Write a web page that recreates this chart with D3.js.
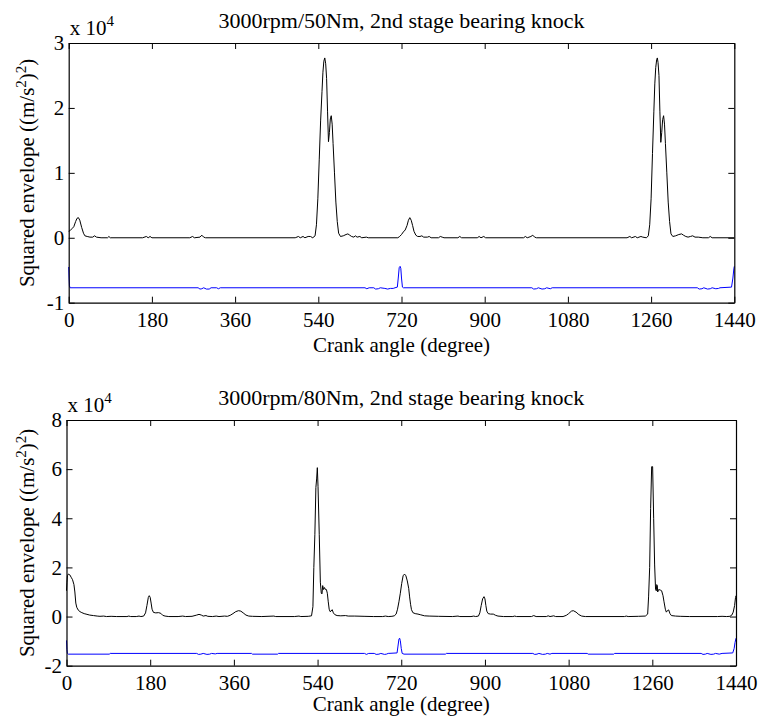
<!DOCTYPE html>
<html>
<head>
<meta charset="utf-8">
<script src="https://cdn.jsdelivr.net/npm/d3@7"></script>
<style>
    body { margin: 0; background: #fff; }
    svg, svg text, svg tspan { font-family: Liberation Serif, Times New Roman, Tinos, DejaVu Serif, serif !important; }
</style>
</head>
<body>
<svg></svg>
<script>
// Crank angle ticks shared by both panels
const x_ticks = [0, 180, 360, 540, 720, 900, 1080, 1260, 1440]
const x_label = "Crank angle (degree)"

// Values are in units of 10^4 (m/s^2)^2, as on the axis
const top_title = "3000rpm/50Nm, 2nd stage bearing knock"
const top_y_ticks = [-1, 0, 1, 2, 3]

// [crank angle, squared envelope] for the black trace, 50Nm
const top_black = [
    [0, 0.10], [3, 0.11], [7, 0.14], [11, 0.17], [15, 0.25], [18, 0.30], [21, 0.31], [24, 0.27],
    [28, 0.16], [32, 0.07], [35, 0.03], [40, 0.02], [46, 0.01], [52, 0.01], [56, 0.03], [60, 0.01],
    [70, 0], [84, 0], [87, 0.02], [90, 0], [160, 0], [168, 0.02], [172, 0], [176, 0.02], [180, 0],
    [262, 0], [268, 0.02], [272, 0], [284, 0.01], [288, 0.04], [292, 0.01], [296, 0],
    [490, 0], [497, 0.02], [501, 0], [507, 0.02], [511, 0], [518, 0.02], [523, 0.02], [528, 0],
    [533, 0.03], [536, 0.2], [539, 0.6], [542, 1.2], [545, 1.8], [548, 2.25], [550, 2.55], [552, 2.72],
    [554, 2.77], [556, 2.68], [558, 2.45], [560, 1.95], [562, 1.48], [564, 1.62], [566, 1.83], [568, 1.88],
    [570, 1.75], [572, 1.45], [575, 1.0], [578, 0.55], [581, 0.25], [584, 0.07], [588, 0.02], [594, 0.03],
    [600, 0.05], [604, 0.06], [608, 0.04], [612, 0.02], [617, 0.01], [620, 0.03], [624, 0.01], [630, 0.02],
    [634, 0], [644, 0.01], [648, 0], [712, 0], [716, 0.02], [720, 0.05], [724, 0.09], [728, 0.12],
    [732, 0.19], [735, 0.27], [738, 0.31], [741, 0.27], [744, 0.19], [747, 0.1], [751, 0.04], [755, 0.02],
    [760, 0.02], [764, 0.03], [768, 0.01], [776, 0.01], [780, 0.02], [784, 0], [800, 0], [804, 0.02],
    [808, 0.01], [812, 0], [842, 0], [846, 0.02], [850, 0], [884, 0], [888, 0.02], [892, 0], [898, 0.02],
    [902, 0], [984, 0], [988, 0.02], [992, 0], [1000, 0.02], [1004, 0.04], [1008, 0.01], [1012, 0],
    [1208, 0], [1214, 0.02], [1218, 0], [1226, 0.02], [1230, 0], [1238, 0.02], [1242, 0.01], [1250, 0],
    [1254, 0.03], [1257, 0.2], [1260, 0.6], [1263, 1.3], [1266, 1.95], [1268, 2.37], [1270, 2.62],
    [1272, 2.74], [1273.5, 2.77], [1275, 2.7], [1277, 2.5], [1279, 1.95], [1281, 1.47], [1283, 1.62],
    [1285, 1.82], [1287, 1.88], [1289, 1.75], [1291, 1.45], [1294, 1.0], [1297, 0.55], [1300, 0.25],
    [1303, 0.06], [1307, 0.02], [1313, 0.03], [1320, 0.05], [1326, 0.06], [1330, 0.04], [1335, 0.02],
    [1340, 0.01], [1345, 0.02], [1350, 0.03], [1355, 0.01], [1362, 0.01], [1372, 0], [1384, 0],
    [1388, 0.02], [1392, 0], [1440, 0]
]

// blue trace, 50Nm
const top_blue = [
    [0, -0.45], [0.8, -0.62], [1.6, -0.74], [3, -0.77], [280, -0.77], [284, -0.79], [288, -0.785],
    [292, -0.77], [298, -0.79], [304, -0.79], [308, -0.77], [320, -0.77], [324, -0.785], [328, -0.77],
    [641, -0.77], [645, -0.785], [650, -0.77], [660, -0.77], [664, -0.79], [670, -0.785], [674, -0.77],
    [684, -0.78], [690, -0.79], [696, -0.78], [702, -0.78], [706, -0.77], [711, -0.76], [713, -0.62],
    [715, -0.46], [717, -0.44], [718.5, -0.47], [720, -0.62], [722, -0.76], [724, -0.77],
    [1002, -0.77], [1006, -0.79], [1012, -0.785], [1016, -0.77], [1024, -0.79], [1030, -0.785],
    [1034, -0.77], [1042, -0.785], [1046, -0.77], [1360, -0.77], [1364, -0.79], [1370, -0.785],
    [1374, -0.77], [1382, -0.79], [1388, -0.785], [1392, -0.77], [1400, -0.785], [1406, -0.78],
    [1409, -0.77], [1434, -0.76], [1437, -0.62], [1439, -0.48], [1440, -0.44]
]

const bottom_title = "3000rpm/80Nm, 2nd stage bearing knock"
const bottom_y_ticks = [-2, 0, 2, 4, 6, 8]

// black trace, 80Nm
const bottom_black = [
    [0, 1.05], [1, 1.4], [2, 1.66], [4, 1.73], [7, 1.7], [10, 1.6], [13, 1.5], [16, 1.3], [18, 1.0],
    [20, 0.55], [22, 0.38], [25, 0.27], [29, 0.2], [33, 0.16], [38, 0.12], [44, 0.09], [50, 0.06],
    [58, 0.04], [66, 0.02], [72, 0.01], [80, 0.02], [86, 0], [96, 0.01], [108, 0], [130, 0], [134, 0.02],
    [138, 0], [150, 0], [156, 0.02], [160, 0], [166, 0.02], [170, 0.15], [173, 0.45], [176, 0.78],
    [178, 0.85], [180, 0.78], [182, 0.55], [184, 0.3], [187, 0.17], [192, 0.15], [198, 0.16], [203, 0.13],
    [207, 0.05], [212, 0.02], [220, 0], [240, 0], [250, 0.02], [256, 0], [270, 0.01], [280, 0.06],
    [285, 0.09], [290, 0.06], [294, 0.02], [300, 0.04], [304, 0.01], [314, 0], [322, 0.02], [328, 0],
    [340, 0.02], [346, 0.01], [352, 0.05], [358, 0.12], [364, 0.2], [370, 0.24], [375, 0.22], [380, 0.15],
    [386, 0.06], [392, 0.02], [400, 0.01], [420, 0], [446, 0.02], [450, 0], [490, 0], [500, 0.02],
    [504, 0], [520, 0.01], [527, 0.03], [530, 0.4], [532, 2.0], [534.2, 3.35], [536.4, 5.25], [538, 5.6],
    [539.5, 6.06], [541, 5.3], [543.6, 3.35], [546, 1.4], [548, 0.95], [549.5, 0.92], [551, 1.26],
    [553, 1.1], [555, 1.18], [557, 1.1], [559, 1.1], [561, 0.95], [563, 0.6], [565, 0.3], [567, 0.2],
    [569, 0.22], [571.5, 0.28], [574, 0.15], [577, 0.08], [582, 0.04], [590, 0.03], [600, 0.04],
    [606, 0.02], [620, 0.02], [640, 0.01], [660, 0], [680, 0], [686, 0.02], [692, 0], [700, 0.01],
    [705, 0.03], [709, 0.1], [712, 0.3], [715, 0.6], [718, 0.95], [721, 1.35], [724, 1.66], [727, 1.73],
    [730, 1.66], [733, 1.45], [736, 1.15], [738, 0.8], [740, 0.5], [742, 0.28], [745, 0.16], [750, 0.12],
    [756, 0.1], [762, 0.07], [770, 0.03], [780, 0.02], [800, 0.01], [830, 0], [842, 0.02], [846, 0],
    [870, 0], [876, 0.02], [880, 0], [886, 0.02], [889, 0.15], [892, 0.45], [895, 0.72], [898, 0.81],
    [900, 0.72], [902, 0.45], [904, 0.22], [907, 0.12], [912, 0.1], [918, 0.1], [923, 0.05], [928, 0.02],
    [940, 0], [960, 0], [964, 0.02], [968, 0], [1000, 0], [1005, 0.04], [1010, 0], [1032, 0],
    [1036, 0.03], [1040, 0], [1048, 0.03], [1052, 0], [1068, 0], [1075, 0.05], [1080, 0.12], [1086, 0.22],
    [1090, 0.24], [1096, 0.18], [1102, 0.08], [1108, 0.02], [1116, 0], [1200, 0], [1204, 0.02],
    [1208, 0], [1230, 0.01], [1245, 0.02], [1250, 0.1], [1252, 0.8], [1254.3, 2.0], [1256.4, 4.4],
    [1258.6, 6.1], [1260.7, 6.1], [1262.9, 4.0], [1265, 2.1], [1267, 1.1], [1268.6, 1.05], [1269.5, 1.3],
    [1270.8, 1.26], [1271.5, 1.0], [1273.7, 1.1], [1277, 1.08], [1280, 1.05], [1283, 0.85], [1285.2, 0.6],
    [1288, 0.3], [1290.2, 0.18], [1293, 0.25], [1295.2, 0.27], [1298, 0.12], [1301, 0.04], [1310, 0.02],
    [1320, 0.01], [1340, 0], [1400, 0], [1410, 0.01], [1420, 0], [1427, 0.01], [1431, 0.06], [1434, 0.18],
    [1437, 0.45], [1439, 0.78], [1440, 0.85]
]

// blue trace, 80Nm
const bottom_blue = [
    [0, -0.97], [1, -1.35], [2, -1.5], [4, -1.53], [92, -1.53], [94, -1.5], [280, -1.5], [284, -1.54],
    [289, -1.53], [294, -1.5], [302, -1.54], [308, -1.53], [312, -1.5], [320, -1.52], [324, -1.5],
    [398, -1.5], [400, -1.53], [454, -1.53], [456, -1.5], [641, -1.5], [645, -1.54], [650, -1.5],
    [662, -1.5], [666, -1.54], [672, -1.53], [676, -1.5], [684, -1.54], [688, -1.53], [692, -1.5],
    [711, -1.48], [713, -1.2], [715, -0.92], [716.5, -0.88], [718, -0.98], [720, -1.3], [722, -1.5],
    [726, -1.53], [815, -1.53], [817, -1.5], [1003, -1.5], [1007, -1.54], [1012, -1.53], [1016, -1.5],
    [1024, -1.54], [1030, -1.53], [1034, -1.5], [1040, -1.53], [1044, -1.5], [1120, -1.5], [1122, -1.53],
    [1177, -1.53], [1179, -1.5], [1365, -1.5], [1369, -1.54], [1374, -1.53], [1378, -1.5], [1386, -1.54],
    [1392, -1.53], [1396, -1.5], [1404, -1.53], [1410, -1.5], [1433, -1.48], [1436, -1.3], [1438, -1.05],
    [1440, -0.88]
]

const width = 759
const height = 717

const svg = d3.select("svg")
    .attr("width", width)
    .attr("height", height)
    .attr("font-family", "Liberation Serif, Times New Roman, DejaVu Serif, serif")

function draw_panel(box, title, y_ticks, black, blue) {
    const g = svg.append("g")

    // Define scales
    const x = d3.scaleLinear()
        .domain([x_ticks[0], x_ticks[x_ticks.length - 1]])
        .range([box.left, box.right])
    const y = d3.scaleLinear()
        .domain([y_ticks[0], y_ticks[y_ticks.length - 1]])
        .range([box.bottom, box.top])

    const line = d3.line()
        .x(d => x(d[0]))
        .y(d => y(d[1]))

    g.append("path")
        .datum(blue)
        .attr("fill", "none")
        .attr("stroke", "#0000ff")
        .attr("stroke-width", 1)
        .attr("d", line)

    g.append("path")
        .datum(black)
        .attr("fill", "none")
        .attr("stroke", "#000")
        .attr("stroke-width", 1)
        .attr("d", line)

    // Axes, ticks pointing inwards on all four sides
    const tick_len = 6
    const axis_font = 21

    const bottom_axis = g.append("g")
        .attr("transform", `translate(0,${box.bottom})`)
        .call(d3.axisBottom(x).tickValues(x_ticks).tickSizeInner(-tick_len).tickSizeOuter(0)
            .tickPadding(9).tickFormat(d => String(d)))
    const top_axis = g.append("g")
        .attr("transform", `translate(0,${box.top})`)
        .call(d3.axisTop(x).tickValues(x_ticks).tickSizeInner(-tick_len).tickSizeOuter(0).tickFormat(""))
    const left_axis = g.append("g")
        .attr("transform", `translate(${box.left},0)`)
        .call(d3.axisLeft(y).tickValues(y_ticks).tickSizeInner(-tick_len).tickSizeOuter(0)
            .tickPadding(4.5).tickFormat(d => String(d)))
    const right_axis = g.append("g")
        .attr("transform", `translate(${box.right},0)`)
        .call(d3.axisRight(y).tickValues(y_ticks).tickSizeInner(-tick_len).tickSizeOuter(0).tickFormat(""))

    ;[bottom_axis, top_axis, left_axis, right_axis].forEach(function(a) {
        a.attr("font-family", "Liberation Serif, Times New Roman, DejaVu Serif, serif")
            .attr("font-size", axis_font)
        a.select(".domain").attr("stroke", "#000").attr("stroke-width", 1.2)
        a.selectAll(".tick line").attr("stroke", "#000").attr("stroke-width", 1)
        a.selectAll("text").attr("fill", "#000")
    })

    // Exponent label above the y axis
    const exp_label = g.append("text")
        .attr("x", box.left + 1)
        .attr("y", box.top - 8.5)
        .attr("font-size", axis_font)
    exp_label.append("tspan").text("x 10")
    exp_label.append("tspan")
        .attr("dy", -9)
        .attr("font-size", 15)
        .text("4")

    // Title
    g.append("text")
        .attr("x", (box.left + box.right) / 2)
        .attr("y", box.top - 15.5)
        .attr("text-anchor", "middle")
        .attr("font-size", 22)
        .text(title)

    // X label
    g.append("text")
        .attr("x", (box.left + box.right) / 2)
        .attr("y", box.bottom + box.x_label_gap)
        .attr("text-anchor", "middle")
        .attr("font-size", axis_font)
        .text(x_label)

    // Y label with superscripts
    const y_label = g.append("text")
        .attr("transform", `translate(${box.y_label_x},${(box.top + box.bottom) / 2}) rotate(-90)`)
        .attr("text-anchor", "middle")
        .attr("font-size", axis_font)
    y_label.append("tspan").text("Squared envelope ((m/s")
    y_label.append("tspan").attr("dy", -8).attr("font-size", 15).text("2")
    y_label.append("tspan").attr("dy", 8).text(")")
    y_label.append("tspan").attr("dy", -8).attr("font-size", 15).text("2")
    y_label.append("tspan").attr("dy", 8).text(")")
}

draw_panel({ left: 68.7, right: 734.3, top: 43, bottom: 302.7, x_label_gap: 49, y_label_x: 34 },
    top_title, top_y_ticks, top_black, top_blue)
draw_panel({ left: 66.5, right: 736, top: 420, bottom: 665.7, x_label_gap: 45.5, y_label_x: 34 },
    bottom_title, bottom_y_ticks, bottom_black, bottom_blue)
</script>
</body>
</html>
